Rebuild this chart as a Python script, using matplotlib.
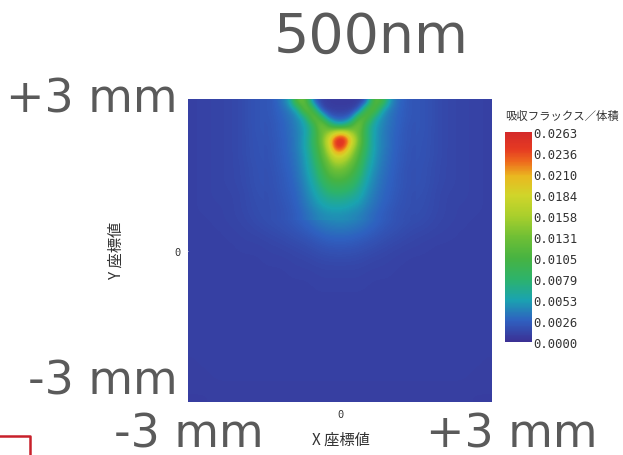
import matplotlib
matplotlib.use("Agg")
import matplotlib.pyplot as plt
import numpy as np
from matplotlib.colors import LinearSegmentedColormap
from matplotlib.lines import Line2D

# absorbed flux per volume, in units of 1e-4
# whole window (-3..3 mm both ways), 24 x 24 cells, top row = +3 mm
FLUX_E4 = [
    [10, 11, 12, 13, 16, 21, 21, 28, 60, 60, 20, 10, 10, 20, 60, 60, 28, 21, 21, 16, 13, 12, 11, 10],
    [10, 11, 12, 13, 16, 21, 21, 26, 45, 90, 60, 25, 25, 60, 90, 45, 26, 21, 21, 16, 13, 12, 11, 10],
    [10, 11, 12, 13, 16, 21, 21, 25, 40, 70, 120, 100, 100, 120, 70, 40, 25, 21, 21, 16, 13, 12, 11, 10],
    [10, 11, 12, 13, 16, 20, 20, 24, 35, 65, 140, 220, 220, 140, 65, 35, 24, 20, 20, 16, 13, 12, 11, 10],
    [10, 11, 12, 13, 16, 20, 20, 23, 33, 60, 110, 160, 160, 110, 60, 33, 23, 20, 20, 16, 13, 12, 11, 10],
    [10, 11, 12, 13, 15, 19, 19, 22, 31, 52, 90, 120, 120, 90, 52, 31, 22, 19, 19, 15, 13, 12, 11, 10],
    [10, 11, 12, 13, 15, 19, 19, 21, 29, 45, 75, 95, 95, 75, 45, 29, 21, 19, 19, 15, 13, 12, 11, 10],
    [10, 11, 12, 12, 14, 18, 18, 20, 27, 40, 58, 70, 70, 58, 40, 27, 20, 18, 18, 14, 12, 12, 11, 10],
    [10, 11, 11, 12, 14, 17, 17, 19, 25, 34, 46, 54, 54, 46, 34, 25, 19, 17, 17, 14, 12, 11, 11, 10],
    [10, 10, 11, 12, 13, 16, 18, 20, 24, 31, 40, 44, 44, 39, 32, 24, 20, 17, 16, 13, 12, 11, 10, 10],
    [10, 10, 10, 11, 12, 13, 15, 17, 20, 24, 30, 33, 33, 30, 25, 20, 17, 14, 13, 12, 11, 10, 10, 10],
    [10, 10, 10, 10, 11, 11, 12, 13, 15, 17, 21, 23, 23, 21, 18, 15, 13, 12, 11, 10, 10, 10, 10, 10],
    [10, 10, 10, 10, 10, 10, 11, 11, 12, 13, 15, 16, 16, 15, 13, 12, 11, 10, 10, 10, 10, 10, 10, 10],
    [10, 10, 10, 10, 10, 10, 10, 10, 11, 11, 12, 12, 12, 12, 11, 11, 10, 10, 10, 10, 10, 10, 10, 10],
    [10, 10, 10, 10, 10, 10, 10, 10, 10, 10, 11, 11, 11, 11, 10, 10, 10, 10, 10, 10, 10, 10, 10, 10],
    [10, 10, 10, 10, 10, 10, 10, 10, 10, 10, 10, 10, 10, 10, 10, 10, 10, 10, 10, 10, 10, 10, 10, 10],
    [10, 10, 10, 10, 10, 10, 10, 10, 10, 10, 10, 10, 10, 10, 10, 10, 10, 10, 10, 10, 10, 10, 10, 10],
    [10, 10, 10, 10, 10, 10, 10, 10, 10, 10, 10, 10, 10, 10, 10, 10, 10, 10, 10, 10, 10, 10, 10, 10],
    [10, 10, 10, 10, 10, 10, 10, 10, 10, 10, 10, 10, 10, 10, 10, 10, 10, 10, 10, 10, 10, 10, 10, 10],
    [10, 10, 10, 10, 10, 10, 10, 10, 10, 10, 10, 10, 10, 10, 10, 10, 10, 10, 10, 10, 10, 10, 10, 10],
    [9, 10, 10, 10, 10, 10, 10, 10, 10, 10, 10, 10, 10, 10, 10, 10, 10, 10, 10, 10, 10, 10, 10, 9],
    [9, 9, 10, 10, 10, 10, 10, 10, 10, 10, 10, 10, 10, 10, 10, 10, 10, 10, 10, 10, 10, 10, 9, 9],
    [9, 9, 9, 9, 9, 9, 9, 9, 9, 9, 9, 9, 9, 9, 9, 9, 9, 9, 9, 9, 9, 9, 9, 9],
    [8, 8, 9, 9, 9, 9, 9, 9, 9, 9, 9, 9, 9, 9, 9, 9, 9, 9, 9, 9, 9, 9, 8, 8],
]
X_RANGE_MM = [-3, 3]
Y_RANGE_MM = [-3, 3]

# finer reading of the V-shaped hot spot near the top (units of 1e-4)
DETAIL_X_MM = [-1.5, 1.5]
DETAIL_Y_MM = [0.6, 3.0]
DETAIL_E4 = [
    [21, 26, 36, 55, 130, 120, 30, 10, 7, 6, 6, 6, 7, 20, 120, 110, 50, 32, 25, 21],
    [21, 25, 31, 40, 60, 140, 100, 18, 9, 8, 8, 9, 20, 110, 125, 55, 38, 30, 24, 21],
    [21, 24, 29, 35, 45, 65, 140, 95, 28, 20, 20, 28, 110, 125, 65, 45, 35, 28, 24, 21],
    [20, 23, 27, 33, 42, 55, 85, 145, 100, 55, 55, 100, 145, 80, 55, 42, 34, 28, 23, 20],
    [20, 23, 27, 32, 40, 52, 80, 125, 145, 185, 195, 150, 125, 80, 52, 40, 32, 27, 22, 20],
    [20, 22, 26, 31, 40, 55, 85, 125, 185, 258, 263, 200, 130, 80, 52, 40, 32, 26, 22, 20],
    [19, 22, 26, 31, 40, 55, 80, 118, 170, 250, 240, 170, 120, 78, 52, 40, 32, 26, 22, 19],
    [19, 22, 25, 30, 38, 52, 75, 110, 150, 195, 185, 148, 108, 72, 50, 38, 31, 25, 21, 19],
    [19, 21, 25, 29, 37, 50, 70, 100, 132, 158, 152, 128, 98, 66, 48, 37, 30, 25, 21, 19],
    [18, 21, 24, 28, 35, 48, 65, 90, 118, 132, 128, 112, 88, 60, 45, 35, 29, 24, 20, 18],
    [18, 20, 23, 27, 34, 45, 60, 82, 103, 113, 110, 98, 78, 55, 42, 33, 28, 23, 20, 18],
    [18, 20, 23, 26, 32, 42, 55, 72, 88, 94, 92, 84, 68, 50, 40, 32, 27, 23, 20, 18],
    [17, 19, 22, 25, 30, 40, 50, 63, 74, 78, 76, 70, 60, 46, 37, 30, 26, 22, 19, 17],
    [17, 19, 21, 24, 29, 37, 46, 55, 62, 64, 63, 58, 52, 42, 35, 29, 25, 21, 19, 17],
    [17, 18, 20, 23, 27, 34, 41, 48, 52, 53, 52, 49, 45, 38, 32, 27, 23, 20, 18, 17],
    [17, 18, 20, 22, 26, 31, 37, 42, 44, 45, 44, 42, 39, 34, 29, 25, 22, 19, 17, 16],
]

CBAR_TICKS = [0.0, 0.00263, 0.00526, 0.00789, 0.01052, 0.01315,
              0.01578, 0.01841, 0.02104, 0.02367, 0.0263]
CBAR_LABELS = ["0.0000", "0.0026", "0.0053", "0.0079", "0.0105", "0.0131",
               "0.0158", "0.0184", "0.0210", "0.0236", "0.0263"]
VMAX = 0.0263

GRAY = "#5a5a5a"
TXT = "#333333"
CJK = ["Noto Sans CJK JP", "DejaVu Sans"]
MONO = ["DejaVu Sans Mono"]

cmap = LinearSegmentedColormap.from_list("flux", [
    (0.00, "#3b3094"),
    (0.10, "#2f60c0"),
    (0.20, "#1aa3b0"),
    (0.30, "#2db36a"),
    (0.40, "#47b341"),
    (0.50, "#6fbf35"),
    (0.60, "#a9cf2c"),
    (0.70, "#d0d52a"),
    (0.79, "#eab820"),
    (0.86, "#ee6a1d"),
    (0.92, "#e53a22"),
    (1.00, "#d42a2a"),
])

field = np.array(FLUX_E4, dtype=float) * 1e-4
detail = np.array(DETAIL_E4, dtype=float) * 1e-4

fig = plt.figure(figsize=(6.23, 4.56), dpi=100)
fig.patch.set_facecolor("white")

ax = fig.add_axes([188 / 623, 1 - 403 / 456, 304 / 623, 303 / 456])
im = ax.imshow(field, cmap=cmap, vmin=0, vmax=VMAX, origin="upper",
               extent=[X_RANGE_MM[0], X_RANGE_MM[1], Y_RANGE_MM[0], Y_RANGE_MM[1]],
               interpolation="bicubic", aspect="auto")
ax.imshow(detail, cmap=cmap, vmin=0, vmax=VMAX, origin="upper",
          extent=[DETAIL_X_MM[0], DETAIL_X_MM[1], DETAIL_Y_MM[0], DETAIL_Y_MM[1]],
          interpolation="bicubic", aspect="auto")
ax.set_xlim(X_RANGE_MM)
ax.set_ylim(Y_RANGE_MM)
for s in ax.spines.values():
    s.set_visible(False)
ax.set_xticks([0])
ax.set_yticks([0])
ax.set_xticklabels(["0"], family=MONO, fontsize=7.5, color=TXT)
ax.set_yticklabels(["0"], family=MONO, fontsize=7.5, color=TXT)
ax.tick_params(length=2, width=0.6, color="white", pad=3)

fig.text(341 / 623, 1 - 440 / 456, "X 座標値", family=CJK, fontsize=11,
         color=TXT, ha="center", va="center")
fig.text(116 / 623, 1 - 250 / 456, "Y 座標値", family=CJK, fontsize=11,
         color=TXT, ha="center", va="center", rotation=90)

cax = fig.add_axes([505 / 623, 1 - 343 / 456, 27 / 623, 210 / 456])
cb = fig.colorbar(im, cax=cax, ticks=CBAR_TICKS)
cb.outline.set_visible(False)
cb.ax.set_yticklabels(CBAR_LABELS, family=MONO, fontsize=8.8, color=TXT)
cb.ax.tick_params(length=0, pad=1)
fig.text(505 / 623, 1 - 116 / 456, "吸収フラックス／体積", family=CJK,
         fontsize=8.2, color=TXT, ha="left", va="center")

# big annotation labels
fig.text(371 / 623, 1 - 38 / 456, "500nm", fontsize=40, color=GRAY, ha="center", va="center")
fig.text(178 / 623, 1 - 100 / 456, "+3 mm", fontsize=33, color=GRAY, ha="right", va="center")
fig.text(178 / 623, 1 - 382 / 456, "-3 mm", fontsize=33, color=GRAY, ha="right", va="center")
fig.text(189 / 623, 1 - 435 / 456, "-3 mm", fontsize=33, color=GRAY, ha="center", va="center")
fig.text(512 / 623, 1 - 435 / 456, "+3 mm", fontsize=33, color=GRAY, ha="center", va="center")

# red bracket at the bottom-left corner
fig.add_artist(Line2D([0, 30 / 623, 30 / 623], [1 - 437 / 456, 1 - 437 / 456, 0],
                      transform=fig.transFigure, color="#c8202a", lw=1.8))

fig.savefig("out.png", dpi=100)
